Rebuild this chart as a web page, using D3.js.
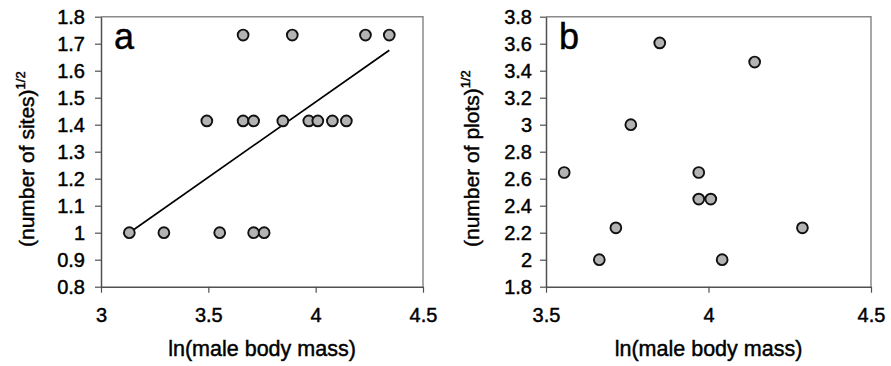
<!DOCTYPE html>
<html>
<head>
<meta charset="utf-8">
<script src="https://cdn.jsdelivr.net/npm/d3@7"></script>
<style>
  body { margin: 0; background: #fff; }
  svg { display: block; font-family: "Liberation Sans", Arial, sans-serif; }
  svg text { stroke: #000; stroke-width: 0.45px; }
</style>
</head>
<body>
<svg width="891" height="366"></svg>
<script>
'use strict';
// panel a: number of sites
var sitesX = [3.132, 3.293, 3.553, 3.711, 3.760,
  3.493, 3.662, 3.711, 3.847, 3.968, 4.010, 4.078, 4.143,
  3.662, 3.891, 4.232, 4.343];
var sitesY = [1, 1, 1, 1, 1,
  1.414, 1.414, 1.414, 1.414, 1.414, 1.414, 1.414, 1.414,
  1.732, 1.732, 1.732, 1.732];
var trendX = [3.132, 4.343];
var trendY = [1.0, 1.676];
var sitesXTicks = [3, 3.5, 4, 4.5];
var sitesYTicks = [0.8, 0.9, 1, 1.1, 1.2, 1.3, 1.4, 1.5, 1.6, 1.7, 1.8];

// panel b: number of plots
var plotsX = [3.556, 3.664, 3.715, 3.761, 3.850, 3.970, 3.970, 4.007, 4.042, 4.142, 4.289];
var plotsY = [2.646, 2.0, 2.236, 3.0, 3.606, 2.646, 2.449, 2.449, 2.0, 3.464, 2.236];
var plotsXTicks = [3.5, 4, 4.5];
var plotsYTicks = [1.8, 2, 2.2, 2.4, 2.6, 2.8, 3, 3.2, 3.4, 3.6, 3.8];

var svg = d3.select("svg");

function drawPanel(opt) {
  var g = svg.append("g");
  var x = d3.scaleLinear().domain(opt.xDomain).range([opt.left, opt.right]);
  var y = d3.scaleLinear().domain(opt.yDomain).range([opt.bottom, opt.top]);

  // top and right frame
  g.append("path")
    .attr("d", "M" + opt.left + "," + opt.top + "H" + opt.right + "V" + opt.bottom)
    .attr("fill", "none")
    .attr("stroke", "#8a8a8a")
    .attr("stroke-width", 1.5);

  var xAxis = g.append("g")
    .attr("transform", "translate(0," + opt.bottom + ")")
    .call(d3.axisBottom(x).tickValues(opt.xTicks).tickSizeInner(6).tickSizeOuter(0)
      .tickPadding(15).tickFormat(d3.format("~g")));
  var yAxis = g.append("g")
    .attr("transform", "translate(" + opt.left + ",0)")
    .call(d3.axisLeft(y).tickValues(opt.yTicks).tickSizeInner(6).tickSizeOuter(0)
      .tickPadding(opt.yPad).tickFormat(d3.format("~g")));

  [xAxis, yAxis].forEach(function(a) {
    a.select(".domain").attr("stroke", "#505050").attr("stroke-width", 1.5);
    a.selectAll(".tick line").attr("stroke", "#505050").attr("stroke-width", 1.2);
    a.selectAll(".tick text").attr("fill", "#000").style("font-size", "20px");
  });

  if (opt.trendX) {
    g.append("line")
      .attr("x1", x(opt.trendX[0])).attr("y1", y(opt.trendY[0]))
      .attr("x2", x(opt.trendX[1])).attr("y2", y(opt.trendY[1]))
      .attr("stroke", "#000")
      .attr("stroke-width", 1.7);
  }

  g.selectAll(".dot")
    .data(opt.xs)
    .enter().append("circle")
    .attr("class", "dot")
    .attr("cx", function(d) { return x(d); })
    .attr("cy", function(d, i) { return y(opt.ys[i]); })
    .attr("r", 5.4)
    .attr("fill", "#b3b3b3")
    .attr("stroke", "#111")
    .attr("stroke-width", 1.9);

  g.append("text")
    .attr("x", opt.left + 13)
    .attr("y", 49)
    .style("font-size", "36px")
    .text(opt.letter);

  g.append("text")
    .attr("x", (opt.left + opt.right) / 2)
    .attr("y", 356)
    .attr("text-anchor", "middle")
    .style("font-size", "21.5px")
    .text("ln(male body mass)");

  var yl = g.append("text")
    .attr("transform", "translate(" + (opt.left - 67) + ",247) rotate(-90)")
    .style("font-size", "21px");
  yl.append("tspan").text(opt.yLabel);
  yl.append("tspan").attr("dy", -9).style("font-size", "13px").text("1/2");
}

drawPanel({
  left: 101, right: 423, top: 16.7, bottom: 286.7,
  xDomain: [3, 4.5], yDomain: [0.8, 1.8],
  xTicks: sitesXTicks, yTicks: sitesYTicks, yPad: 10,
  xs: sitesX, ys: sitesY, trendX: trendX, trendY: trendY,
  letter: "a", yLabel: "(number of sites)"
});

drawPanel({
  left: 546, right: 871, top: 16.7, bottom: 286.7,
  xDomain: [3.5, 4.5], yDomain: [1.8, 3.8],
  xTicks: plotsXTicks, yTicks: plotsYTicks, yPad: 8,
  xs: plotsX, ys: plotsY,
  letter: "b", yLabel: "(number of plots)"
});
</script>
</body>
</html>
